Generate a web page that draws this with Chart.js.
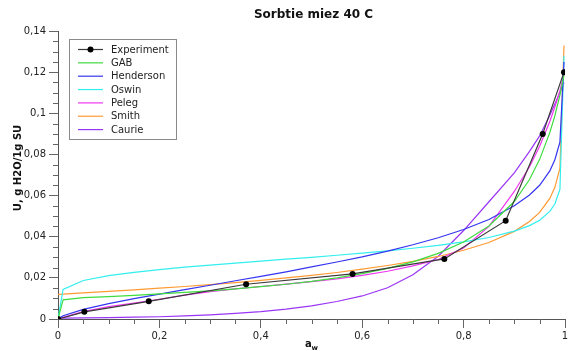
<!DOCTYPE html>
<html>
<head>
<meta charset="utf-8">
<script src="https://cdn.jsdelivr.net/npm/chart.js@4.4.1/dist/chart.umd.min.js"></script>
<style>
  html, body { margin: 0; padding: 0; background: #ffffff; }
  #wrap { width: 568px; height: 351px; }
</style>
</head>
<body>
<div id="wrap"><canvas id="c" width="568" height="351"></canvas></div>
<script>
// Water activity grid used for the fitted sorption models
const awGrid = [0, 0.01, 0.05, 0.1, 0.15, 0.2, 0.25, 0.3, 0.35, 0.4, 0.45, 0.5, 0.55, 0.6, 0.65, 0.7, 0.75, 0.8, 0.85, 0.9, 0.93, 0.95, 0.97, 0.98, 0.99, 0.998];

// Measured equilibrium moisture (g H2O / 1 g SU)
const expAw = [0, 0.052, 0.179, 0.371, 0.581, 0.762, 0.883, 0.956, 0.998];
const expU  = [0, 0.0035, 0.0086, 0.0169, 0.0219, 0.0292, 0.0478, 0.0899, 0.1200];

// Model curves on awGrid
const gab       = [0, 0.0093, 0.0104, 0.0109, 0.0115, 0.0122, 0.0129, 0.0137, 0.0146, 0.0157, 0.0169, 0.0183, 0.0200, 0.0221, 0.0246, 0.0278, 0.0319, 0.0374, 0.0452, 0.0571, 0.0678, 0.0776, 0.0906, 0.0988, 0.1088, 0.1184];
const henderson = [0, 0.0016, 0.0047, 0.0075, 0.0099, 0.0121, 0.0143, 0.0164, 0.0186, 0.0207, 0.0229, 0.0253, 0.0277, 0.0302, 0.0330, 0.0361, 0.0395, 0.0435, 0.0484, 0.0550, 0.0603, 0.0650, 0.0720, 0.0774, 0.0860, 0.1250];
const oswin     = [0, 0.0144, 0.0187, 0.0211, 0.0227, 0.0240, 0.0252, 0.0262, 0.0272, 0.0281, 0.0291, 0.0300, 0.0310, 0.0320, 0.0331, 0.0344, 0.0358, 0.0375, 0.0396, 0.0427, 0.0454, 0.0480, 0.0523, 0.0559, 0.0630, 0.1280];
const peleg     = [0, 0.0008, 0.0036, 0.0060, 0.0077, 0.0096, 0.0116, 0.0133, 0.0146, 0.0158, 0.0170, 0.0182, 0.0195, 0.0212, 0.0232, 0.0258, 0.0289, 0.0345, 0.0450, 0.0620, 0.0740, 0.0840, 0.0960, 0.1030, 0.1110, 0.1190];
const smith     = [0.0120, 0.0121, 0.0127, 0.0134, 0.0142, 0.0150, 0.0158, 0.0167, 0.0177, 0.0188, 0.0200, 0.0212, 0.0226, 0.0242, 0.0260, 0.0280, 0.0304, 0.0334, 0.0372, 0.0426, 0.0474, 0.0518, 0.0586, 0.0640, 0.0733, 0.1330];
const caurie    = [0.0004, 0.0004, 0.0005, 0.0007, 0.0009, 0.0011, 0.0015, 0.0020, 0.0027, 0.0036, 0.0048, 0.0064, 0.0085, 0.0112, 0.0152, 0.0215, 0.0305, 0.0430, 0.0570, 0.0710, 0.0815, 0.0890, 0.0990, 0.1045, 0.1100, 0.1150];

const seriesNames = ['Experiment', 'GAB', 'Henderson', 'Oswin', 'Peleg', 'Smith', 'Caurie'];
const seriesColors = ['#3a3a3a', '#3fdc3f', '#3535f0', '#33eeee', '#f035f0', '#ff9a33', '#9a35f5'];

const chartTitle = 'Sorbtie miez 40 C';
const yTitle = 'U, g H2O/1g SU';

const FONT = '"DejaVu Sans", Verdana, sans-serif';
const fmt = v => Number(v.toFixed(2)).toString().replace('.', ',');

const xs = [expAw, awGrid, awGrid, awGrid, awGrid, awGrid, awGrid];
const ys = [expU, gab, henderson, oswin, peleg, smith, caurie];

const datasets = seriesNames.map((name, k) => ({
  label: name,
  data: xs[k].map((x, i) => ({ x: x, y: ys[k][i] })),
  showLine: true,
  borderColor: seriesColors[k],
  backgroundColor: k === 0 ? '#000000' : seriesColors[k],
  borderWidth: 1.2,
  pointRadius: k === 0 ? 3 : 0,
  pointHoverRadius: k === 0 ? 3 : 0,
  pointBorderWidth: 0,
  tension: 0,
  fill: false
}));

// Title, axis titles, minor ticks and the boxed legend
const decorations = {
  id: 'decorations',
  afterDraw(chart) {
    const ctx = chart.ctx;
    const a = chart.chartArea;
    const xS = chart.scales.x, yS = chart.scales.y;
    ctx.save();

    // minor ticks
    ctx.strokeStyle = '#666666';
    ctx.lineWidth = 1;
    ctx.beginPath();
    for (let i = 0; i <= 28; i++) {
      if (i % 4 === 0) continue;
      const py = Math.round(yS.getPixelForValue(i * 0.005)) + 0.5;
      ctx.moveTo(a.left - 5, py); ctx.lineTo(a.left, py);
    }
    for (let i = 0; i <= 20; i++) {
      if (i % 4 === 0) continue;
      const px = Math.round(xS.getPixelForValue(i * 0.05)) + 0.5;
      ctx.moveTo(px, a.bottom); ctx.lineTo(px, a.bottom + 5);
    }
    ctx.stroke();

    // title
    ctx.fillStyle = '#111111';
    ctx.font = 'bold 12px ' + FONT;
    ctx.textAlign = 'center';
    ctx.textBaseline = 'middle';
    ctx.fillText(chartTitle, (a.left + a.right) / 2 + 2, 15);

    // y title
    ctx.save();
    ctx.translate(18, 168);
    ctx.rotate(-Math.PI / 2);
    ctx.font = 'bold 10px ' + FONT;
    ctx.fillText(yTitle, 0, 0);
    ctx.restore();

    // x title a_w
    ctx.font = 'bold 10px ' + FONT;
    ctx.textAlign = 'left';
    ctx.textBaseline = 'alphabetic';
    ctx.fillText('a', 305, 347);
    ctx.font = 'bold 7px ' + FONT;
    ctx.fillText('w', 311.5, 350);

    // legend
    const bx = 69.5, by = 39.5, bw = 107, bh = 100;
    ctx.fillStyle = '#ffffff';
    ctx.fillRect(bx, by, bw, bh);
    ctx.strokeStyle = '#8a8a8a';
    ctx.lineWidth = 1;
    ctx.strokeRect(bx, by, bw, bh);
    ctx.font = '10px ' + FONT;
    ctx.textBaseline = 'middle';
    chart.data.datasets.forEach((ds, i) => {
      const yy = 49.5 + i * 13.35;
      ctx.strokeStyle = ds.borderColor;
      ctx.lineWidth = 1.2;
      ctx.beginPath();
      ctx.moveTo(78, yy); ctx.lineTo(103, yy);
      ctx.stroke();
      if (ds.pointRadius > 0) {
        ctx.fillStyle = '#000000';
        ctx.beginPath();
        ctx.arc(90.5, yy, 3, 0, Math.PI * 2);
        ctx.fill();
      }
      ctx.fillStyle = '#222222';
      ctx.fillText(ds.label, 111, yy + 0.5);
    });
    ctx.restore();
  }
};

new Chart(document.getElementById('c'), {
  type: 'scatter',
  data: { datasets: datasets },
  options: {
    responsive: false,
    animation: false,
    devicePixelRatio: 1,
    layout: { padding: { top: 31, right: 0, left: 0, bottom: 0 } },
    plugins: {
      legend: { display: false },
      title: { display: false },
      tooltip: { enabled: false }
    },
    scales: {
      x: {
        type: 'linear',
        min: 0, max: 1,
        afterFit: s => { s.height = 32; s.paddingRight = 2; },
        border: { display: true, color: '#555555', width: 1 },
        grid: { drawOnChartArea: false, drawTicks: true, tickLength: 9, color: '#666666' },
        ticks: { stepSize: 0.2, callback: v => fmt(v), font: { family: FONT, size: 10 }, color: '#222222', padding: 2, maxRotation: 0 }
      },
      y: {
        type: 'linear',
        min: 0, max: 0.14,
        afterFit: s => { s.width = 58; },
        border: { display: true, color: '#555555', width: 1 },
        grid: { drawOnChartArea: false, drawTicks: true, tickLength: 9, color: '#666666' },
        ticks: { stepSize: 0.02, callback: v => fmt(v), font: { family: FONT, size: 10 }, color: '#222222', padding: 3 }
      }
    }
  },
  plugins: [decorations]
});
</script>
</body>
</html>
